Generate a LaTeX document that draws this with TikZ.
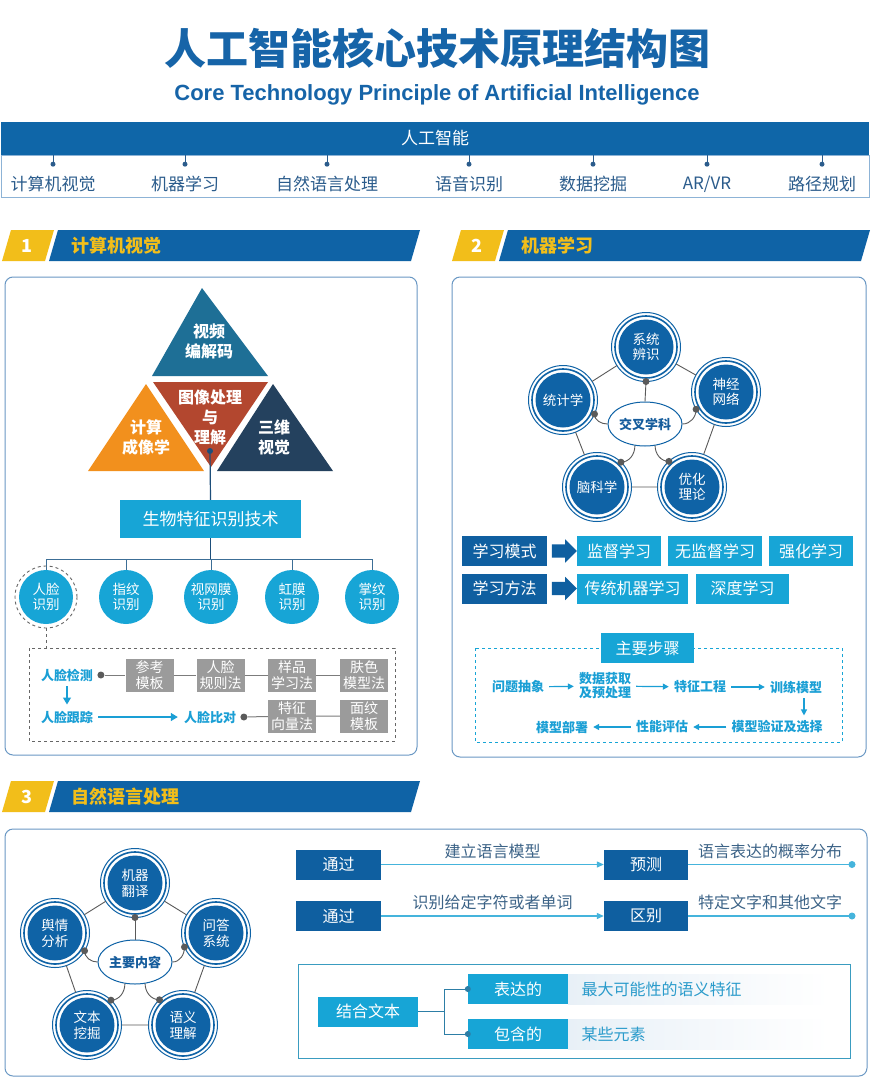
\documentclass[tikz,border=0pt]{standalone}
\usepackage{fontspec}
\setmainfont{Noto Sans CJK SC}
\newfontfamily\enfont{Liberation Sans}
\usetikzlibrary{positioning,shapes.geometric,shapes.arrows,arrows.meta}
\newcommand{\fz}[2]{\fontsize{#1}{#2}\selectfont}
\definecolor{titleblue}{HTML}{1664A8}
\definecolor{barblue}{HTML}{0F66A8}
\definecolor{stripblue}{HTML}{8DB3D6}
\definecolor{itemblue}{HTML}{2B5C8C}
\definecolor{secyellow}{HTML}{F2BE1A}
\definecolor{secblue}{HTML}{0F63A6}
\definecolor{panelblue}{HTML}{6A98C4}
\definecolor{tritop}{HTML}{1E6F96}
\definecolor{trimid}{HTML}{B3472F}
\definecolor{trileft}{HTML}{F2901D}
\definecolor{triright}{HTML}{24415E}
\definecolor{boxcyan}{HTML}{17A5D6}
\definecolor{boxdark}{HTML}{0F5FA0}
\definecolor{boxgray}{HTML}{9B9B9B}
\definecolor{navy}{HTML}{1D4E7A}
\definecolor{treeblue}{HTML}{3C6E96}
\definecolor{dashgray}{HTML}{666666}
\definecolor{linkgray}{HTML}{5A5A5A}
\definecolor{ringblue}{HTML}{0F63A6}
\definecolor{hubblue}{HTML}{155C9C}
\definecolor{stepcyan}{HTML}{1A9FD5}
\definecolor{flowcyan}{HTML}{45B4DC}
\definecolor{labelblue}{HTML}{3C6387}
\definecolor{descblue}{HTML}{2A9BCB}
\definecolor{innerteal}{HTML}{3A9CC0}
\definecolor{stripgray}{HTML}{E8F0F7}
\definecolor{brackteal}{HTML}{2D7EA6}
\begin{document}
\begin{tikzpicture}[x=1pt, y=-1pt,
  bar/.style={fill=barblue, text=white, minimum height=33pt, inner sep=0pt},
  topitem/.style={text=itemblue, font=\fz{17}{20}},
  secnum/.style={text=white, font=\fz{18}{20}\bfseries},
  sectitle/.style={text=secyellow, font=\fz{18}{20}\bfseries, anchor=west},
  panel/.style={draw=panelblue, line width=1pt, rounded corners=8pt},
  tritext/.style={text=white, font=\fz{16}{20}\bfseries, align=center},
  cyanbox/.style={fill=boxcyan, text=white, inner sep=0pt, minimum height=30pt, font=\fz{16}{18}},
  darkbox/.style={fill=boxdark, text=white, inner sep=0pt, minimum height=30pt, font=\fz{16}{18}},
  darkarrow/.style={single arrow, fill=boxdark, inner xsep=0pt, inner ysep=6.5pt, single arrow head extend=5pt, minimum height=25pt},
  bio/.style={circle, fill=boxcyan, text=white, minimum size=54pt, inner sep=0pt, align=center, font=\fz{13.5}{15}},
  graybox/.style={fill=boxgray, text=white, minimum width=48pt, minimum height=33pt, inner sep=0pt, align=center, font=\fz{14}{15.5}},
  facetext/.style={text=stepcyan, font=\fz{13}{15}\bfseries, inner sep=1pt},
  steptext/.style={text=stepcyan, font=\fz{13}{14}\bfseries, align=center, inner sep=1pt},
  treeline/.style={draw=treeblue, line width=1pt},
  grayline/.style={draw=boxgray!80!black, line width=1pt},
  faceflow/.style={draw=stepcyan, line width=1.3pt, -{Triangle[length=7pt,width=8pt]}, shorten <=4pt, shorten >=5pt},
  ring/.style={circle, fill=ringblue, text=white, minimum size=55pt, inner sep=0pt, outer sep=7pt, align=center, font=\fz{13.5}{15}},
  hub/.style={ellipse, draw=ringblue, line width=1pt, fill=white, text=hubblue, minimum width=74pt, minimum height=44pt, inner sep=0pt, font=\fz{13}{15}\bfseries},
  link/.style={draw=linkgray, line width=0.9pt},
  dot/.style={circle, fill=linkgray, minimum size=7pt, inner sep=0pt},
  stepflow/.style={draw=stepcyan, line width=1.2pt, -{Triangle[length=6pt,width=6pt]}, shorten <=4pt, shorten >=4pt},
  nlpflow/.style={draw=flowcyan, line width=1.2pt, -{Triangle[length=7pt,width=6pt]}},
  ]
\fill[white] (0,0) rectangle (874,1090);
\useasboundingbox (0,0) rectangle (874,1090);

% title
\node[text=titleblue, font=\fz{42}{46}\bfseries] (title) at (437,48) {人工智能核心技术原理结构图};
\node[text=titleblue, font=\enfont\fz{22}{24}\bfseries] (subtitle) at (437,95) {Core Technology Principle of Artificial Intelligence};

% top bar
\node[bar, minimum width=868pt, font=\fz{17}{20}] (ai) at (435,138.5) {人工智能};
\draw[draw=stripblue, line width=1pt] (1,155) rectangle (869,197);
\foreach \x/\n/\t in {53/cv/计算机视觉, 185/ml/机器学习, 327/nlp/自然语言处理, 469/asr/语音识别, 593/dm/数据挖掘, 707/arvr/{AR/VR}, 822/path/路径规划}{
  \node[topitem] (\n) at (\x,184) {\t};
  \draw[itemblue, line width=0.8pt] (ai.south -| \n.north) -- ++(0,9) node[circle, fill=itemblue, inner sep=0pt, minimum size=5pt] {};
}

% section headers
\foreach \x/\y/\num/\t in {2/230/1/计算机视觉, 452/230/2/机器学习, 2/781/3/自然语言处理}{
  \fill[secyellow] (\x,\y+31) -- (\x+9,\y) -- (\x+52,\y) -- (\x+43,\y+31) -- cycle;
  \fill[secblue] (\x+47,\y+31) -- (\x+56,\y) -- (\x+418,\y) -- (\x+409,\y+31) -- cycle;
  \node[secnum] (num\num) at (\x+25,\y+15.5) {\num};
  \node[sectitle] (sec\num) at (\x+66,\y+15.5) {\t};
}

% panels
\draw[panel] (5,277) rectangle (417,755);
\draw[panel] (452,277) rectangle (866,757);
\draw[panel] (5,829) rectangle (867,1076);

% panel 1: computer vision
\fill[tritop] (202,288) -- (268,376) -- (152,376) -- cycle;
\fill[trimid] (153,382) -- (268,382) -- (211,467) -- cycle;
\fill[trileft] (146,384) -- (204,471) -- (88,471) -- cycle;
\fill[triright] (273,384) -- (333,471) -- (217,471) -- cycle;
\node[tritext] (video) at (209,341) {视频\\编解码};
\node[tritext] (image) at (210,417) {图像处理\\与\\理解};
\node[tritext] (imaging) at (146,437) {计算\\成像学};
\node[tritext] (threed) at (274,437) {三维\\视觉};
\node[dot, fill=navy, minimum size=6pt] (imgdot) at (210,451) {};
\node[cyanbox, minimum width=181pt, minimum height=38pt, font=\fz{17}{20}] (biotech) at (210.5,519) {生物特征识别技术};
\draw[draw=navy, line width=1.2pt] (imgdot) -- (biotech.north);

\foreach \x/\n/\t in {46/face/{人脸\\识别}, 126/finger/{指纹\\识别}, 211/retina/{视网膜\\识别}, 292/iris/{虹膜\\识别}, 372/palm/{掌纹\\识别}}
  \node[bio] (\n) at (\x,597) {\t};
\coordinate (bus) at (210.5,559);
\draw[draw=navy, line width=1.2pt] (biotech.south) -- (bus);
\draw[treeline] (face.north |- bus) -- (palm.north |- bus);
\foreach \n in {face,finger,retina,iris,palm}
  \draw[treeline] (\n.north |- bus) -- (\n.north);
\draw[dashed, draw=dashgray, line width=0.9pt] (face) circle (31pt);
\coordinate (facebox) at (46,648);
\draw[dashed, draw=dashgray, line width=0.9pt] (face.south) ++(0,4) -- (facebox);
\draw[dashed, draw=dashgray, line width=0.9pt] (29,648) rectangle (395,741);

\node[facetext] (detect) at (67,675) {人脸检测};
\node[dot] (detdot) [right=3pt of detect] {};
\node[graybox] (ref) at (149.5,675) {参考\\模板};
\node[graybox] (rules) at (220.5,675) {人脸\\规则法};
\node[graybox] (sample) at (292,675) {样品\\学习法};
\node[graybox] (skin) at (364,675) {肤色\\模型法};
\draw[grayline] (detdot) -- (ref) (ref) -- (rules) (rules) -- (sample) (sample) -- (skin);
\node[facetext] (track) at (67,717) {人脸跟踪};
\node[facetext] (compare) at (210,717) {人脸比对};
\node[dot] (cmpdot) [right=3pt of compare] {};
\node[graybox] (vector) at (292,716) {特征\\向量法};
\node[graybox] (texture) at (364,716) {面纹\\模板};
\draw[grayline] (cmpdot) -- (vector) (vector) -- (texture);
\draw[faceflow] (detect) -- (track);
\draw[faceflow] (track) -- (compare);

% panel 2: machine learning
\node[ring] (sys) at (646,347) {系统\\辨识};
\node[ring] (neu) at (726,392) {神经\\网络};
\node[ring] (opt) at (692,487) {优化\\理论};
\node[ring] (bra) at (597,487) {脑科学};
\node[ring] (sta) at (563,400) {统计学};
\foreach \n in {sys,neu,opt,bra,sta}{
  \draw[draw=ringblue, line width=1.6pt] (\n) circle (31pt);
  \draw[draw=ringblue, line width=1pt] (\n) circle (34.5pt);
}
\draw[link] (sys) -- (neu) (neu) -- (opt) (opt) -- (bra) (bra) -- (sta) (sta) -- (sys);
\node[hub] (cross) at (645,424) {交叉学科};
\draw[link] (cross.north) -- (sys.south);
\draw[link] (cross.west) to[out=180,in=-90] (sta.-24);
\draw[link] (cross.east) to[out=0,in=-90] (neu.-150);
\draw[link] (cross.-115) to[out=-90,in=0] (bra.46);
\draw[link] (cross.-65) to[out=-90,in=180] (opt.132);
\foreach \p in {sys.south, sta.-24, neu.-150, bra.46, opt.132}
  \fill[linkgray] (\p) circle (3.5pt);

\node[darkbox, minimum width=85pt] (mode) at (504.5,551) {学习模式};
\node[darkarrow] (modearrow) at (561,551) {};
\node[cyanbox, minimum width=84pt] (super) at (619,551) {监督学习};
\node[cyanbox, minimum width=94pt] (unsuper) at (715,551) {无监督学习};
\node[cyanbox, minimum width=84pt] (reinf) at (811,551) {强化学习};
\node[darkbox, minimum width=85pt] (method) at (504.5,588.5) {学习方法};
\node[darkarrow] (methodarrow) at (561,588.5) {};
\node[cyanbox, minimum width=111pt] (trad) at (632.5,588.5) {传统机器学习};
\node[cyanbox, minimum width=93pt] (deep) at (742.5,588.5) {深度学习};

\draw[dashed, draw=boxcyan, line width=0.9pt] (475,648) rectangle (842,742);
\node[cyanbox, minimum width=93pt] (steps) at (647.5,648) {主要步骤};
\node[steptext] (abstract) at (518,687) {问题抽象};
\node[steptext] (acquire) at (605,686) {数据获取\\及预处理};
\node[steptext] (feature) at (700,687) {特征工程};
\node[steptext] (train) at (796,687) {训练模型};
\node[steptext] (validate) at (777,727) {模型验证及选择};
\node[steptext] (evaluate) at (662,727) {性能评估};
\node[steptext] (deploy) at (562,727) {模型部署};
\draw[stepflow] (abstract) -- (acquire);
\draw[stepflow] (acquire) -- (feature);
\draw[stepflow] (feature) -- (train);
\draw[stepflow] (train.south -| 804,0) -- (validate.north -| 804,0);
\draw[stepflow] (validate) -- (evaluate);
\draw[stepflow] (evaluate) -- (deploy);

% panel 3: natural language processing
\node[ring, font=\fz{13.5}{16}] (trans) at (135,883) {机器\\翻译};
\node[ring, font=\fz{13.5}{16}] (qa) at (216,933) {问答\\系统};
\node[ring, font=\fz{13.5}{16}] (senti) at (55,933) {舆情\\分析};
\node[ring, font=\fz{13.5}{16}] (mining) at (87,1025) {文本\\挖掘};
\node[ring, font=\fz{13.5}{16}] (semantic) at (183,1025) {语义\\理解};
\foreach \n in {trans,qa,senti,mining,semantic}{
  \draw[draw=ringblue, line width=1.6pt] (\n) circle (31pt);
  \draw[draw=ringblue, line width=1pt] (\n) circle (34.5pt);
}
\draw[link] (trans) -- (qa) (qa) -- (semantic) (semantic) -- (mining) (mining) -- (senti) (senti) -- (trans);
\node[hub] (content) at (135,962) {主要内容};
\draw[link] (content.north) -- (trans.south);
\draw[link] (content.west) to[out=180,in=-90] (senti.-31);
\draw[link] (content.east) to[out=0,in=-90] (qa.-156);
\draw[link] (content.-115) to[out=-90,in=0] (mining.46);
\draw[link] (content.-65) to[out=-90,in=180] (semantic.133);
\foreach \p in {trans.south, senti.-31, qa.-156, mining.46, semantic.133}
  \fill[linkgray] (\p) circle (3.5pt);

\node[darkbox, minimum width=85pt] (via1) at (338.5,864.5) {通过};
\node[darkbox, minimum width=84pt] (predict) at (646,864.5) {预测};
\node[darkbox, minimum width=85pt] (via2) at (338.5,916) {通过};
\node[darkbox, minimum width=84pt] (distinguish) at (646,916) {区别};
\coordinate (end1) at (852,864.5);
\coordinate (end2) at (852,916);
\draw[nlpflow] (via1) -- node[above=2pt, text=labelblue, font=\fz{16}{18}] {建立语言模型} (predict);
\draw[nlpflow] (via2) -- node[above=2pt, text=labelblue, font=\fz{16}{18}] {识别给定字符或者单词} (distinguish);
\draw[draw=flowcyan, line width=1.2pt] (predict) -- node[above=2pt, text=labelblue, font=\fz{16}{18}] {语言表达的概率分布} (end1);
\draw[draw=flowcyan, line width=1.2pt] (distinguish) -- node[above=2pt, text=labelblue, font=\fz{16}{18}] {特定文字和其他文字} (end2);
\fill[flowcyan] (end1) circle (3.5pt) (end2) circle (3.5pt);

\draw[draw=innerteal, line width=1pt] (298,964) rectangle (850,1058);
\shade[left color=stripgray, right color=white] (568,974) rectangle (829,1004);
\shade[left color=stripgray, right color=white] (568,1019) rectangle (829,1049);
\node[cyanbox, minimum width=100pt] (combine) at (368,1011.5) {结合文本};
\node[cyanbox, minimum width=100pt] (express) at (518,989) {表达的};
\node[cyanbox, minimum width=100pt] (contain) at (518,1034) {包含的};
\node[anchor=west, text=descblue, font=\fz{16}{18}] (maxsem) at (578,989) {最大可能性的语义特征};
\node[anchor=west, text=descblue, font=\fz{16}{18}] (elements) at (578,1034) {某些元素};
\draw[draw=brackteal, line width=1pt] (combine.east) -- ++(26,0) coordinate (fork);
\draw[draw=brackteal, line width=1pt] (fork) |- (express.west);
\draw[draw=brackteal, line width=1pt] (fork) |- (contain.west);
\fill[brackteal] (express.west) circle (3pt) (contain.west) circle (3pt);
\end{tikzpicture}
\end{document}
